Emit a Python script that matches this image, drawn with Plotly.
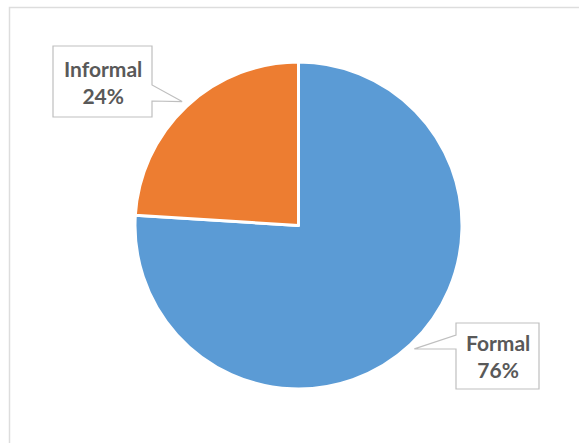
import math
import plotly.graph_objects as go

# Share of employment by sector type
categories = ["Formal", "Informal"]
values = [76, 24]
colors = ["#5B9BD5", "#ED7D31"]

W, H = 579, 443
CX, CY, R = 298.5, 225.5, 163.5   # pie centre / radius in pixels


def px(x, y):
    """Pixel position (from top-left) to paper coordinates."""
    return x / W, 1 - y / H


fig = go.Figure(
    go.Pie(
        labels=categories,
        values=values,
        sort=False,
        direction="clockwise",
        rotation=0,
        marker=dict(colors=colors, line=dict(color="white", width=3)),
        textinfo="none",
        hoverinfo="label+percent",
        showlegend=False,
        domain=dict(
            x=[(CX - R) / W, (CX + R) / W],
            y=[(H - CY - R) / H, (H - CY + R) / H],
        ),
    )
)

# Mid-angle of each slice (degrees clockwise from 12 o'clock) for the callout tips
total = sum(values)
mid_angles = {}
start = 0.0
for name, v in zip(categories, values):
    sweep = 360.0 * v / total
    mid_angles[name] = start + sweep / 2
    start += sweep


def tip(name, k):
    a = math.radians(mid_angles[name])
    return CX + k * R * math.sin(a), CY - k * R * math.cos(a)


def path(points):
    parts = []
    for i, (x, y) in enumerate(points):
        u, v = px(x, y)
        parts.append(("M" if i == 0 else "L") + f"{u:.5f},{v:.5f}")
    return " ".join(parts) + " Z"


# Callout boxes (left, top, right, bottom in pixels)
inf_box = (53, 46, 152, 117)
for_box = (456, 323, 539, 389)

tx, ty = tip("Informal", 1.04)
l, t, r, b = inf_box
inf_poly = [(l, t), (r, t), (r, 85), (tx, ty), (r, 101), (r, b), (l, b)]

tx, ty = tip("Formal", 1.035)
l, t, r, b = for_box
for_poly = [(l, t), (r, t), (r, b), (l, b), (l, 349), (tx, ty), (l, 335)]

shapes = [
    # chart frame
    dict(type="rect", xref="paper", yref="paper",
         x0=9.5 / W, x1=1.2, y0=-0.2, y1=1 - 7.5 / H,
         line=dict(color="#DDDDDD", width=1.5), layer="below"),
]
for poly in (inf_poly, for_poly):
    shapes.append(dict(type="path", xref="paper", yref="paper", path=path(poly),
                       fillcolor="white", line=dict(color="#BFBFBF", width=1.2),
                       layer="above"))

annotations = []
pct = {n: round(100 * v / total) for n, v in zip(categories, values)}
for name, box in (("Informal", inf_box), ("Formal", for_box)):
    l, t, r, b = box
    x, y = px((l + r) / 2, (t + b) / 2)
    annotations.append(dict(
        x=x, y=y, xref="paper", yref="paper", showarrow=False,
        xanchor="center", yanchor="middle",
        text=f"{name}<br>{pct[name]}%",
        font=dict(family="Lato, Liberation Sans, sans-serif", size=21,
                  color="#595959", weight="bold"),
        align="center",
    ))

fig.update_layout(
    width=W, height=H,
    margin=dict(l=0, r=0, t=0, b=0),
    paper_bgcolor="white",
    plot_bgcolor="white",
    shapes=shapes,
    annotations=annotations,
)

fig.write_html("out.html")
